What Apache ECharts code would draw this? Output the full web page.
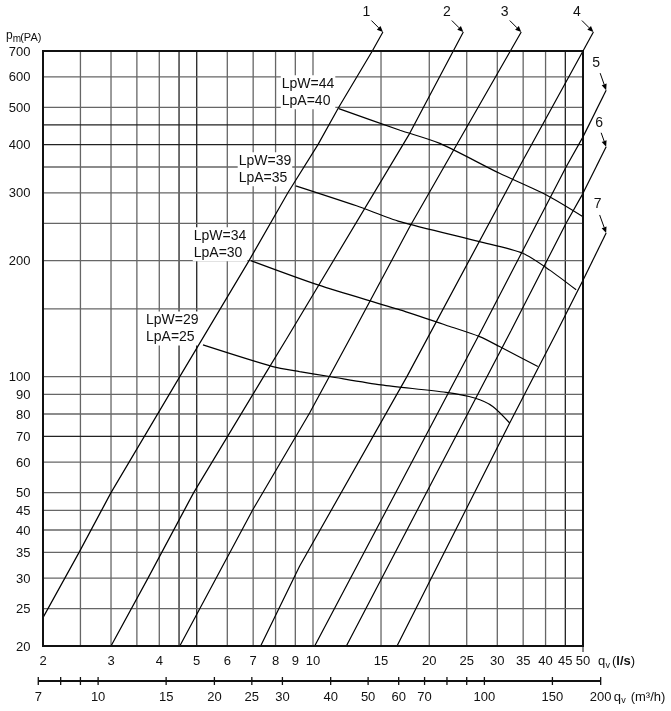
<!DOCTYPE html>
<html><head><meta charset="utf-8">
<script src="https://cdn.jsdelivr.net/npm/echarts@6/dist/echarts.min.js"></script>
<style>html,body{margin:0;padding:0;background:#fff}#chart{width:671px;height:711px}</style>
</head><body><div id="chart"></div>
<script>
// ---------------- data ----------------
const xGridLs = [2,2.5,3,3.5,4,4.5,5,6,7,8,9,10,15,20,25,30,35,40,45,50];
const xTickLabelsLs = [2,3,4,5,6,7,8,9,10,15,20,25,30,35,40,45,50];
const yGridPa = [20,25,30,35,40,45,50,60,70,80,90,100,150,200,250,300,350,400,450,500,600,700];
const yTickLabelsPa = [20,25,30,35,40,45,50,60,70,80,90,100,200,300,400,500,600,700];
const m3hTicks = [7,8,9,10,15,20,25,30,40,50,60,70,80,90,100,150,200];
const m3hTickLabels = [7,10,15,20,25,30,40,50,60,70,100,150,200];

const systemCurveNames = ['1','2','3','4','5','6','7'];
const curve1 = [[2,23.7],[2.48,35],[3.0,50],[4.52,100],[6.83,200],[8.61,300],[10.3,400],[11.66,500],[14.24,700],[15.17,784]];
const curve2 = [[3.0,20],[3.74,30],[4.91,50],[7.45,100],[8.53,125],[17.8,428],[24.5,784]];
const curve3 = [[4.52,20],[6.99,45.2],[9.8,80.5],[12.8,132],[17.8,245],[34.6,784]];
const curve4 = [[7.32,20],[9.23,32.2],[17.5,100],[34.2,350],[50,700],[53.2,784]];
const curve5 = [[10.1,20],[27.3,132],[45.2,350],[50,419],[57.4,554]];
const curve6 = [[12.2,20],[32.6,132],[45.2,250],[50,299],[57.4,395]];
const curve7 = [[16.5,20],[32.3,75.8],[43,132],[50,178],[57.4,236]];

const fanLabels = [['LpW=29','LpA=25'],['LpW=34','LpA=30'],['LpW=39','LpA=35'],['LpW=44','LpA=40']];
const fan29 = [[5.19,120.9],[7.87,106.2],[9.23,103.1],[11.04,100.1],[15.02,95.2],[22.1,91.0],[26.2,88.0],[29.2,83.7],[32.3,75.8]];
const fan34 = [[6.9,200],[10.3,173],[16.8,149],[22.1,136],[27,127],[30.4,119.7],[38.2,106.2]];
const fan39 = [[9.02,312.8],[12.96,277.6],[16.8,252.5],[27,224],[34.9,209],[41,189],[48,168]];
const fan44 = [[11.66,496],[16.8,436],[21.3,403],[30.4,337],[40.2,296],[50,260]];

// ---------------- styling / layout ----------------
const XMIN = 2, XMAX = 50, YMIN = 20, YMAX = 700;
const M3H_PER_LS = 3.6;
const FONT = "'Liberation Sans', Arial, Helvetica, sans-serif";
const darkX = [4.5, 5, 45];
const darkY = [70, 400, 450];
// leader offsets per system curve: [labelDx, labelDy, arrowStartDx, arrowStartDy]
const leaderOffsets = [[-16.5,-20,-11.5,-11.5],[-16.5,-20,-11.5,-11.5],[-16.5,-20,-11.5,-11.5],[-16.5,-20,-11.5,-11.5],
                       [-10,-27,-6,-17],[-7,-24,-5,-14],[-8.5,-29,-6.5,-18]];

const curves = [curve1,curve2,curve3,curve4,curve5,curve6,curve7];
const fans = [fan29,fan34,fan39,fan44];

function cs(data, render, z) {
  return {type:'custom', coordinateSystem:'cartesian2d', data:data, renderItem:render,
          z:z, silent:true, clip:false, animation:false};
}
function txt(x, y, text, size, align, extra) {
  return {type:'text', x:x, y:y, style:Object.assign({
    text:text, font: size + 'px ' + FONT, fill:'#111',
    align:align, textAlign:align, verticalAlign:'middle', textVerticalAlign:'middle'}, extra||{})};
}

const series = [];

// grid lines
series.push(cs(xGridLs.map(v=>[v,YMIN]), function(p, api){
  const v = api.value(0);
  const a = api.coord([v, YMIN]), b = api.coord([v, YMAX]);
  const dark = darkX.indexOf(v) >= 0;
  return {type:'line', shape:{x1:a[0],y1:a[1],x2:b[0],y2:b[1]},
          style:{stroke: dark ? '#222' : '#666', lineWidth: 1.3}};
}, 1));
series.push(cs(yGridPa.map(v=>[XMIN,v]), function(p, api){
  const v = api.value(1);
  const a = api.coord([XMIN, v]), b = api.coord([XMAX, v]);
  const dark = darkY.indexOf(v) >= 0;
  return {type:'line', shape:{x1:a[0],y1:a[1],x2:b[0],y2:b[1]},
          style:{stroke: dark ? '#222' : '#666', lineWidth: 1.3}};
}, 1));

// frame
series.push(cs([[XMIN,YMIN]], function(p, api){
  const a = api.coord([XMIN, YMAX]), b = api.coord([XMAX, YMIN]);
  return {type:'group', children:[
    {type:'rect', shape:{x:a[0], y:a[1], width:b[0]-a[0], height:b[1]-a[1]},
     style:{fill:null, stroke:'#111', lineWidth:2}},
    {type:'line', shape:{x1:b[0], y1:b[1], x2:b[0], y2:b[1]+6}, style:{stroke:'#111', lineWidth:1}}
  ]};
}, 5));

// system curves (inside the x range; parts beyond are drawn with the leaders)
curves.forEach(function(c, i){
  series.push({type:'line', name:'curve'+systemCurveNames[i], data:c.filter(pt=>pt[0] <= XMAX),
    showSymbol:false, symbol:'none', clip:false, smooth:false,
    lineStyle:{color:'#000', width:1.2}, z:4, animation:false, silent:true});
});
// fan curves
fans.forEach(function(c, i){
  series.push({type:'line', name:fanLabels[i][0], data:c, showSymbol:false, symbol:'none',
    clip:false, smooth:0.25, lineStyle:{color:'#000', width:1.2}, z:4, animation:false, silent:true});
});

// curve extensions beyond the frame, leaders with arrows and curve numbers
series.push(cs(curves.map(c=>c[c.length-1].concat(c[c.length-2])), function(p, api){
  const i = p.dataIndex;
  const e = api.coord([api.value(0), api.value(1)]);
  const q = api.coord([api.value(2), api.value(3)]);
  const o = leaderOffsets[i];
  const sx = e[0]+o[2], sy = e[1]+o[3];
  const dx = e[0]-sx, dy = e[1]-sy, L = Math.hypot(dx,dy);
  const ux = dx/L, uy = dy/L, hl = 6, hw = 2.6;
  const bx = e[0]-ux*hl, by = e[1]-uy*hl;
  const ch = [];
  if (api.value(0) > XMAX) {
    ch.push({type:'line', shape:{x1:q[0],y1:q[1],x2:e[0],y2:e[1]}, style:{stroke:'#000', lineWidth:1.2}});
  }
  ch.push({type:'line', shape:{x1:sx,y1:sy,x2:bx,y2:by}, style:{stroke:'#000', lineWidth:1}});
  ch.push({type:'polygon', shape:{points:[[e[0],e[1]],[bx-uy*hw,by+ux*hw],[bx+uy*hw,by-ux*hw]]}, style:{fill:'#000'}});
  ch.push(txt(e[0]+o[0], e[1]+o[1], systemCurveNames[i], 14, 'center'));
  return {type:'group', children:ch};
}, 6));

// fan labels
series.push(cs(fans.map(c=>c[0]), function(p, api){
  const i = p.dataIndex;
  const s = api.coord([api.value(0), api.value(1)]);
  return {type:'text', x:s[0]-58, y:s[1]+0.5, style:{
    text: fanLabels[i][0] + '\n' + fanLabels[i][1], font:'14px ' + FONT, fill:'#111',
    lineHeight:17, align:'left', textAlign:'left', verticalAlign:'bottom', textVerticalAlign:'bottom',
    backgroundColor:'#fff', padding:[0,1,0,1]}};
}, 3));

// x tick labels (l/s)
series.push(cs(xTickLabelsLs.map(v=>[v,YMIN]), function(p, api){
  const a = api.coord([api.value(0), YMIN]);
  return txt(a[0], a[1]+15.7, String(api.value(0)), 13, 'center');
}, 6));
// y tick labels
series.push(cs(yTickLabelsPa.map(v=>[XMIN,v]), function(p, api){
  const a = api.coord([XMIN, api.value(1)]);
  return txt(a[0]-12.5, a[1]+1, String(api.value(1)), 13, 'right');
}, 6));

// secondary m3/h axis
series.push(cs([[XMIN,YMIN]], function(p, api){
  const a = api.coord([m3hTicks[0]/M3H_PER_LS, YMIN]);
  const b = api.coord([m3hTicks[m3hTicks.length-1]/M3H_PER_LS, YMIN]);
  const y = a[1] + 35;
  const ch = [{type:'line', shape:{x1:a[0],y1:y,x2:b[0],y2:y}, style:{stroke:'#111', lineWidth:2}}];
  m3hTicks.forEach(function(v){
    const c = api.coord([v/M3H_PER_LS, YMIN]);
    ch.push({type:'line', shape:{x1:c[0],y1:y-4,x2:c[0],y2:y+4}, style:{stroke:'#111', lineWidth:1.3}});
  });
  m3hTickLabels.forEach(function(v){
    const c = api.coord([v/M3H_PER_LS, YMIN]);
    ch.push(txt(c[0], y+16.5, String(v), 13, 'center'));
  });
  // unit title
  const tx = b[0] + 13;
  ch.push(txt(tx, y+16.5, 'q', 13, 'left'));
  ch.push(txt(tx+7.5, y+20, 'v', 9, 'left'));
  ch.push(txt(tx+17, y+16.5, '(m³/h)', 13, 'left'));
  return {type:'group', children:ch};
}, 6));

// axis titles
series.push(cs([[XMIN,YMIN]], function(p, api){
  const r = api.coord([XMAX, YMIN]);
  const t = api.coord([XMIN, YMAX]);
  const y = r[1] + 15.7;
  const x = r[0] + 15;
  return {type:'group', children:[
    txt(x, y, 'q', 13, 'left'),
    txt(x+7.5, y+3.5, 'v', 9, 'left'),
    {type:'text', x:x+14, y:y, style:{text:'{n|(}{b|l/s}{n|)}', align:'left', textAlign:'left',
      verticalAlign:'middle', textVerticalAlign:'middle',
      rich:{n:{font:'13px '+FONT, fill:'#111'}, b:{font:'bold 13px '+FONT, fill:'#111'}}}},
    txt(t[0]-37, t[1]-15, 'p', 12, 'left'),
    txt(t[0]-30.2, t[1]-12, 'm', 10, 'left'),
    txt(t[0]-22.8, t[1]-13, '(PA)', 11, 'left')
  ]};
}, 6));

const chart = echarts.init(document.getElementById('chart'), null, {renderer:'canvas', width:671, height:711});
chart.setOption({
  animation:false,
  backgroundColor:'#fff',
  grid:{left:43, right:88, top:51, bottom:65, show:false},
  xAxis:{type:'log', logBase:10, min:XMIN, max:XMAX, show:false},
  yAxis:{type:'log', logBase:10, min:YMIN, max:YMAX, show:false},
  series:series
});
</script></body></html>
